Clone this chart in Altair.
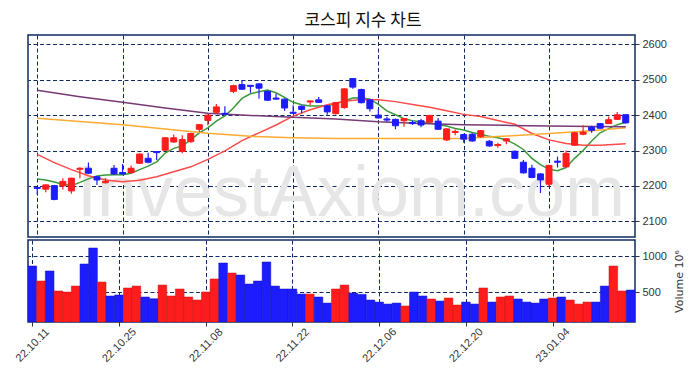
import altair as alt
import pandas as pd

# ---------------- data ----------------
opens = [2196, 2191, 2201, 2200, 2186, 2247, 2250, 2226, 2209, 2250,
         2238, 2238, 2264, 2278, 2297, 2301, 2324, 2297, 2325, 2360,
         2385, 2408, 2405, 2467, 2486, 2484, 2488, 2467, 2448, 2445,
         2408, 2425, 2437, 2443, 2426, 2404, 2421, 2503, 2472, 2443,
         2400, 2389, 2388, 2384, 2379, 2384, 2380, 2383, 2330, 2351,
         2345, 2346, 2339, 2326, 2314, 2327, 2298, 2267, 2250, 2234,
         2205, 2270, 2254, 2315, 2346, 2366, 2376, 2376, 2388, 2401]
highs = [2198, 2205, 2203, 2222, 2223, 2253, 2266, 2228, 2222, 2259,
         2262, 2258, 2292, 2294, 2298, 2337, 2345, 2343, 2350, 2375,
         2402, 2431, 2425, 2486, 2498, 2485, 2490, 2469, 2460, 2447,
         2428, 2427, 2441, 2451, 2428, 2437, 2476, 2505, 2474, 2445,
         2417, 2395, 2390, 2392, 2385, 2390, 2401, 2392, 2363, 2359,
         2347, 2349, 2358, 2330, 2322, 2335, 2300, 2273, 2260, 2236,
         2260, 2283, 2300, 2352, 2371, 2370, 2378, 2396, 2409, 2403]
lows = [2175, 2182, 2160, 2190, 2178, 2222, 2234, 2203, 2207, 2232,
        2232, 2235, 2262, 2264, 2273, 2299, 2322, 2292, 2322, 2352,
        2371, 2404, 2402, 2462, 2471, 2463, 2446, 2440, 2443, 2412,
        2403, 2405, 2428, 2434, 2401, 2402, 2418, 2474, 2433, 2410,
        2390, 2381, 2360, 2367, 2372, 2366, 2378, 2358, 2327, 2343,
        2322, 2325, 2336, 2311, 2308, 2318, 2276, 2235, 2222, 2180,
        2198, 2252, 2252, 2313, 2343, 2350, 2361, 2375, 2386, 2376]
closes = [2193, 2203, 2162, 2213, 2222, 2250, 2236, 2217, 2213, 2234,
          2234, 2250, 2290, 2267, 2294, 2336, 2336, 2331, 2348, 2373,
          2400, 2423, 2402, 2483, 2473, 2481, 2476, 2442, 2445, 2420,
          2405, 2416, 2440, 2436, 2409, 2435, 2474, 2479, 2435, 2418,
          2392, 2386, 2370, 2390, 2376, 2372, 2399, 2360, 2361, 2354,
          2332, 2327, 2356, 2313, 2317, 2333, 2278, 2237, 2224, 2217,
          2258, 2267, 2292, 2350, 2352, 2357, 2363, 2387, 2401, 2378]
volumes = [865, 657, 796, 518, 504, 587, 893, 1115, 643, 449,
           463, 560, 587, 435, 411, 601, 449, 546, 435, 393,
           504, 685, 907, 768, 740, 615, 657, 921, 587, 546,
           546, 476, 476, 435, 351, 546, 601, 490, 472, 393,
           365, 337, 351, 310, 504, 449, 407, 379, 421, 324,
           365, 337, 560, 365, 435, 449, 407, 365, 351, 407,
           421, 435, 393, 337, 365, 365, 587, 865, 518, 532]

ma5 = [2220, 2217, 2211, 2205, 2201, 2210, 2220, 2228, 2231, 2232,
       2232, 2236, 2246, 2256, 2268, 2293, 2306, 2313, 2330, 2350,
       2364, 2383, 2398, 2420, 2447, 2460, 2466, 2471, 2463, 2450,
       2436, 2429, 2426, 2426, 2427, 2431, 2440, 2448, 2449, 2445,
       2430, 2412, 2401, 2390, 2384, 2381, 2378, 2373, 2369, 2362,
       2358, 2351, 2346, 2340, 2336, 2330, 2318, 2303, 2278, 2260,
       2247, 2243, 2252, 2278, 2300, 2327, 2350, 2362, 2373, 2380]
ma20_idx = [0, 2, 4, 6, 8, 10, 12, 14, 16, 18, 20, 22, 24, 26, 28, 30, 32, 34,
            36, 38, 40, 42, 44, 46, 48, 50, 52, 54, 56, 58, 60, 62, 64, 66, 69]
ma20 = [2289, 2266, 2246, 2229, 2217, 2212, 2216, 2226, 2240, 2254, 2275, 2299,
        2328, 2350, 2372, 2397, 2415, 2429, 2439, 2444, 2443, 2438, 2430, 2422,
        2412, 2402, 2396, 2385, 2374, 2348, 2330, 2320, 2315, 2315, 2319]
ma60_idx = [0, 5, 10, 15, 20, 25, 30, 35, 40, 45, 50, 55, 60, 65, 69]
ma60 = [2391, 2382, 2373, 2361, 2349, 2340, 2336, 2334, 2334, 2334, 2334,
        2341, 2348, 2356, 2364]
ma120_idx = [0, 5, 10, 15, 20, 25, 30, 35, 40, 45, 50, 55, 60, 65, 69]
ma120 = [2470, 2452, 2436, 2420, 2405, 2399, 2394, 2389, 2381, 2376, 2373,
         2371, 2369, 2368, 2367]

tick_idx = [0, 10, 20, 30, 40, 50, 60]
tick_labels = ["22.10.11", "22.10.25", "22.11.08", "22.11.22",
               "22.12.06", "22.12.20", "23.01.04"]
price_ticks = [2100, 2200, 2300, 2400, 2500, 2600]
volume_ticks = [500, 1000]

title_text = "코스피 지수 차트"
watermark = "InvestAxiom.com"

# ---------------- styling ----------------
UP = "#ff1c1c"
DOWN = "#1c1cff"
NAVY = "#0f2a62"
LABEL = "#333333"
W = 607
H_PRICE = 202
H_VOL = 82

df = pd.DataFrame({
    "idx": list(range(len(opens))),
    "open": opens, "high": highs, "low": lows, "close": closes,
    "vol": volumes,
})

ma_sets = [
    (list(range(len(ma5))), ma5, "#3a9a3a"),
    (ma20_idx, ma20, "#ff4a4a"),
    (ma60_idx, ma60, "#ffaa33"),
    (ma120_idx, ma120, "#763a74"),
]

xscale = alt.Scale(domain=[-0.5, len(opens) - 0.5], nice=False, zero=False)
label_expr = "[" + ",".join("'%s'" % t for t in tick_labels) + "][round(datum.value/10)]"

x_top_axis = alt.Axis(values=tick_idx, grid=True, gridDash=[4, 2.5], gridColor=NAVY,
                      gridWidth=1, gridOpacity=1, labels=False, ticks=False,
                      domain=False, title=None)
y_price_axis = alt.Axis(orient="right", values=price_ticks, format="d", grid=True,
                        gridDash=[4, 2.5], gridColor=NAVY, gridOpacity=1, domain=False,
                        tickSize=4, tickColor=LABEL, labelColor=LABEL, labelFontSize=11,
                        labelFont="Liberation Sans", labelPadding=3, title=None)
yscale = alt.Scale(domain=[2056, 2626], nice=False, zero=False)
is_up = "datum.close >= datum.open"
color = alt.condition(is_up, alt.value(UP), alt.value(DOWN))

base = alt.Chart(df)

title_mark = alt.Chart(pd.DataFrame({"t": [title_text]})).mark_text(
    fontSize=17, font="Noto Sans CJK KR", color="#111111", align="center",
    baseline="middle"
).encode(text="t:N", x=alt.value(335), y=alt.value(-14))

wm = alt.Chart(pd.DataFrame({"t": [watermark]})).mark_text(
    fontSize=72, font="Liberation Sans", color="#e6e6e6", align="center",
    baseline="alphabetic"
).encode(text="t:N", x=alt.value(323), y=alt.value(181))

grid_layer = base.mark_point(opacity=0).encode(
    x=alt.X("idx:Q", scale=xscale, axis=x_top_axis),
    y=alt.Y("close:Q", scale=yscale, axis=y_price_axis),
)

line_layers = []
for xs, ys, col in ma_sets:
    line_layers.append(
        alt.Chart(pd.DataFrame({"idx": xs, "v": ys})).mark_line(
            strokeWidth=1.5, color=col, clip=True
        ).encode(
            x=alt.X("idx:Q", scale=xscale, axis=x_top_axis),
            y=alt.Y("v:Q", scale=yscale, axis=y_price_axis),
        )
    )

wicks = base.mark_rule(strokeWidth=1.2).encode(
    x=alt.X("idx:Q", scale=xscale, axis=x_top_axis),
    y=alt.Y("low:Q", scale=yscale, axis=y_price_axis),
    y2="high:Q",
    color=color,
)

bodies = base.mark_bar(size=6, strokeWidth=1).encode(
    x=alt.X("idx:Q", scale=xscale, axis=x_top_axis),
    y=alt.Y("open:Q", scale=yscale, axis=y_price_axis),
    y2="close:Q",
    color=color,
    stroke=color,
)

price = alt.layer(wm, grid_layer, *line_layers, wicks, bodies, title_mark).properties(
    width=W, height=H_PRICE)

x_bottom_axis = alt.Axis(values=tick_idx, grid=True, gridDash=[4, 2.5], gridColor=NAVY,
                         gridOpacity=1, labelExpr=label_expr, labelAngle=315,
                         labelAlign="center", labelBaseline="middle", labelPadding=19,
                         labelFontSize=11, labelFont="Liberation Sans", labelColor=LABEL,
                         tickSize=4, tickColor=LABEL, domain=False, title=None)
y_vol_axis = alt.Axis(orient="right", values=volume_ticks, format="d", grid=True,
                      gridDash=[4, 2.5], gridColor=NAVY, gridOpacity=1, domain=False,
                      tickSize=4, tickColor=LABEL, labelColor=LABEL, labelFontSize=11,
                      labelFont="Liberation Sans", labelPadding=3,
                      title="Volume  10⁶", titleAngle=270, titleFontSize=11,
                      titleFont="DejaVu Sans", titleFontWeight="normal",
                      titleColor=LABEL, titlePadding=18)

vcolor = alt.condition(is_up, alt.value(UP), alt.value(DOWN))
vstroke = alt.condition(is_up, alt.value("#c81010"), alt.value("#1010b8"))

vol = base.transform_calculate(
    xl="datum.idx - 0.5", xr="datum.idx + 0.5"
).mark_bar(clip=True, strokeWidth=0.5).encode(
    x=alt.X("xl:Q", scale=xscale, axis=x_bottom_axis),
    x2="xr:Q",
    y=alt.Y("vol:Q", scale=alt.Scale(domain=[88, 1226], nice=False, zero=False),
            axis=y_vol_axis),
    y2=alt.value(H_VOL),
    color=vcolor,
    stroke=vstroke,
).properties(width=W, height=H_VOL)

chart = alt.vconcat(price, vol, spacing=1).properties(
    padding={"left": 4, "top": 3, "right": 4, "bottom": 5},
).configure_view(stroke=NAVY, strokeWidth=1.5).configure_concat(spacing=1)

chart.save("out.html", embed_options={"renderer": "svg", "actions": False})
